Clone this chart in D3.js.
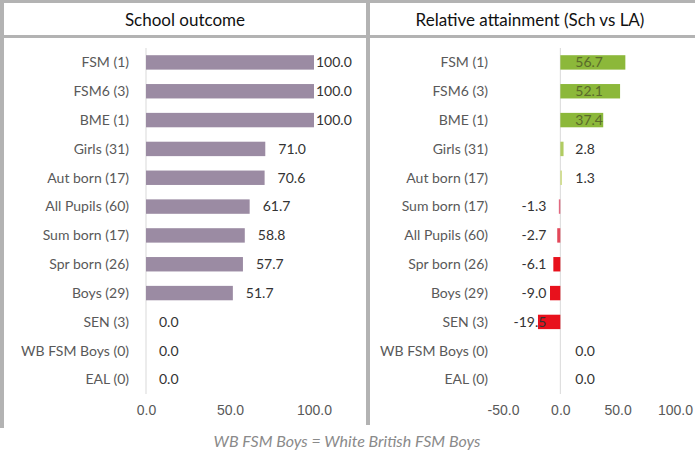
<!DOCTYPE html>
<html><head><meta charset="utf-8">
<script src="https://cdn.jsdelivr.net/npm/d3@7"></script>
<style>
html,body{margin:0;padding:0;background:#fff;}
svg{display:block;font-family:Lato,"Noto Sans",sans-serif;}
</style></head>
<body>
<svg id="c" width="695" height="453"></svg>
<script>
const categories = ["FSM (1)","FSM6 (3)","BME (1)","Girls (31)","Aut born (17)","All Pupils (60)","Sum born (17)","Spr born (26)","Boys (29)","SEN (3)","WB FSM Boys (0)","EAL (0)"];
const schoolOutcome = [100.0,100.0,100.0,71.0,70.6,61.7,58.8,57.7,51.7,0.0,0.0,0.0];
const relCategories = ["FSM (1)","FSM6 (3)","BME (1)","Girls (31)","Aut born (17)","Sum born (17)","All Pupils (60)","Spr born (26)","Boys (29)","SEN (3)","WB FSM Boys (0)","EAL (0)"];
const relAttainment = [56.7,52.1,37.4,2.8,1.3,-1.3,-2.7,-6.1,-9.0,-19.5,0.0,0.0];
const leftTicks = [0,50,100];
const rightTicks = [-50,0,50,100];
const titles = ["School outcome","Relative attainment (Sch vs LA)"];
const footnote = "WB FSM Boys = White British FSM Boys";

const svg = d3.select("#c");
const borderCol = "#b3b3b3";
const f1 = d3.format(".1f");
const fmt = d => f1(d).replace("\u2212", "-");

// frame
svg.append("rect").attr("x",0).attr("y",0).attr("width",695).attr("height",3).attr("fill",borderCol);
svg.append("rect").attr("x",0).attr("y",0).attr("width",4).attr("height",428).attr("fill",borderCol);
svg.append("rect").attr("x",0).attr("y",35).attr("width",695).attr("height",3).attr("fill",borderCol);
svg.append("rect").attr("x",366).attr("y",0).attr("width",4).attr("height",425).attr("fill",borderCol);

svg.append("text").attr("x",185).attr("y",26).attr("text-anchor","middle")
  .attr("font-size",17).attr("fill","#111").text(titles[0]);
svg.append("text").attr("x",530).attr("y",26).attr("text-anchor","middle")
  .attr("font-size",17).attr("fill","#111").text(titles[1]);

const yRange = [48, 394];

function panel(cats, vals, x, ticks, colorFn, labelX) {
  const y = d3.scaleBand().domain(cats).range(yRange).paddingInner(0.5).paddingOuter(0.25);
  const g = svg.append("g");
  g.selectAll("text.cat").data(cats).join("text").attr("class","cat")
    .attr("x", labelX).attr("y", d => y(d) + y.bandwidth()/2)
    .attr("dy","0.35em").attr("text-anchor","end").attr("font-size",14).attr("fill","#595959")
    .text(d => d);
  g.append("line").attr("x1",x(0)).attr("x2",x(0)).attr("y1",yRange[0]).attr("y2",yRange[1])
    .attr("stroke","#d9d9d9").attr("stroke-width",1);
  g.selectAll("rect.bar").data(vals).join("rect").attr("class","bar")
    .attr("x", d => x(Math.min(0,d)))
    .attr("y", (d,i) => y(cats[i]))
    .attr("width", d => Math.abs(x(d) - x(0)))
    .attr("height", y.bandwidth())
    .attr("fill", colorFn);
  const axis = d3.axisBottom(x).tickValues(ticks).tickFormat(fmt).tickSize(0).tickPadding(0);
  const ag = g.append("g").attr("transform","translate(0,405)").call(axis);
  ag.select(".domain").remove();
  ag.selectAll("text").attr("font-size",14).attr("fill","#595959").attr("font-family",null);
  return {y, g};
}

// left
const xL = d3.scaleLinear().domain([0,100]).range([146,314]);
const L = panel(categories, schoolOutcome, xL, leftTicks, () => "#9b8ba3", 129);
L.g.selectAll("text.val").data(schoolOutcome).join("text").attr("class","val")
  .attr("x", d => Math.min(xL(d) + 13, xL(100) + 2))
  .attr("y", (d,i) => L.y(categories[i]) + L.y.bandwidth()/2)
  .attr("dy","0.35em").attr("font-size",14).attr("fill","#333").text(d => fmt(d));

// right
const xR = d3.scaleLinear().domain([-50,100]).range([503,675]);
const col = d3.scaleLinear().domain([-5,-1,1,5]).range(["#e8111c","#e07088","#cfdc82","#8cb83a"]).clamp(true);
const R = panel(relCategories, relAttainment, xR, rightTicks, d => col(d), 488);
R.g.selectAll("text.val").data(relAttainment).join("text").attr("class","val")
  .attr("x", d => d < 0 ? xR(0) - 14 : xR(0) + 15)
  .attr("text-anchor", d => d < 0 ? "end" : "start")
  .attr("y", (d,i) => R.y(relCategories[i]) + R.y.bandwidth()/2)
  .attr("dy","0.35em").attr("font-size",14).attr("fill", d => d > 30 ? "#5a6a2a" : "#333").text(d => fmt(d));

svg.append("text").attr("x",347).attr("y",447).attr("text-anchor","middle")
  .attr("font-size",16).attr("font-style","italic").attr("fill","#8a8a8a").text(footnote);
</script>
</body></html>
